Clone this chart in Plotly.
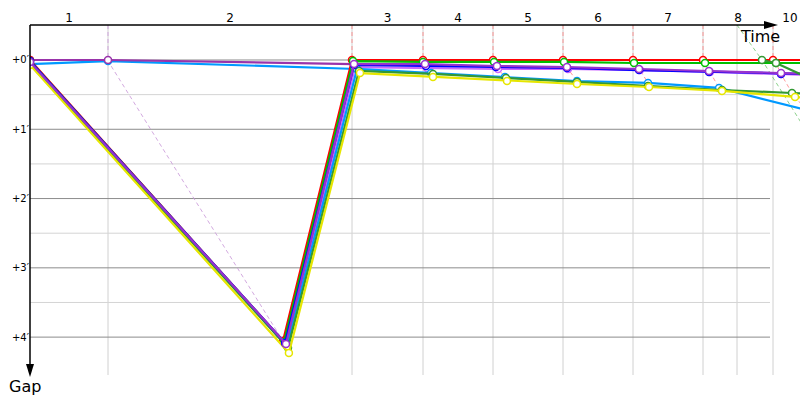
import plotly.graph_objects as go

# ==============================
#  Data: lap completion time (s) and gap to leader (s), index 0 = start
# ==============================
red_t = [0, 325.3, 414.0, 505.3, 595.3, 685.3, 775.3, 865.3, 955.3, 1045.3]
red_gap = [0, 243.3, 0, 0, 0, 0, 0, 0, 0, 0]

green_t = [0, 326.6, 415.3, 505.3, 596.6, 686.6, 776.6, 867.9, 959.1, 1049.1]
green_gap = [0.9, 244.2, 0.9, 1.7, 1.7, 1.7, 2.6, 2.6, 2.6, 2.6]

blue_t = [0, 327.9, 416.6, 509.1, 599.1, 690.4, 783.0, 873.0, 965.6, 1055.6]
blue_gap = [0.9, 245.0, 4.3, 5.2, 6.1, 6.9, 8.7, 10.4, 12.1, 13.0]

violet_t = [0, 329.1, 416.6, 507.9, 600.4, 690.4, 783.0, 873.0, 965.6, 1055.6]
violet_gap = [1.7, 245.9, 3.5, 3.5, 5.2, 6.1, 7.8, 9.5, 11.3, 13.0]

lilac_t = [0, 330.4, 417.9, 510.4, 601.7, 691.7, 784.3, 874.3, 965.6, 1055.6]
lilac_gap = [1.7, 246.8, 6.1, 6.9, 7.8, 7.8, 8.7, 10.4, 12.1, 13.9]

sky_t = [0, 330.4, 420.4, 515.6, 610.7, 703.3, 794.6, 885.9, 997.7, 1087.7]
sky_gap = [2.6, 247.6, 7.8, 11.3, 14.7, 18.2, 19.9, 24.2, 43.3, 61.5]

dkgreen_t = [0, 331.7, 423.0, 518.1, 612.0, 703.3, 794.6, 889.7, 979.7, 1069.7]
dkgreen_gap = [3.5, 249.3, 9.5, 12.1, 15.6, 19.1, 22.5, 26.0, 28.6, 31.2]

yellow_t = [0, 332.9, 424.3, 518.1, 613.3, 703.3, 795.9, 889.7, 983.6, 1073.6]
yellow_gap = [4.3, 253.7, 11.3, 14.7, 18.2, 20.8, 23.4, 26.8, 32.0, 37.2]

# cars that completed lap 1 quickly (only start .. lap 2)
purple2_t = [0, 100.3, 416.6]
purple2_gap = [0, 0, 3.5]
sky2_t = [0, 100.3, 420.4]
sky2_gap = [3.5, 0.9, 7.8]

# lapped dark green car and its lap line
lapped_t = [941.1, 959.1, 1049.1]
lapped_gap = [0, 2.6, 30.3]
green_lap_t = [909.0, 941.1, 1005.4]
green_lap_gap = [-30.3, 0, 69.3]

lap_labels = ["1", "2", "3", "4", "5", "6", "7", "8", "10"]
lap_label_t = [50.1, 257.1, 459.6, 550.3, 640.3, 730.3, 820.3, 910.3, 977.1]

gap_ticks = [0, 60, 120, 180, 240]
gap_text = ["+0′", "+1′", "+2′", "+3′", "+4′"]
gap_minor = [30, 90, 150, 210]

# ==============================
#  Geometry
# ==============================
W, H = 800, 400
ML, MT, MR, MB = 30, 25, 0, 25
X_RANGE = [0, 990.0]
Y_RANGE = [272.8, -30.3]  # reversed: gap grows downward
PW, PH = W - ML - MR, H - MT - MB


def px(x, y):
    """pixel -> paper coords"""
    return (x - ML) / PW, (H - MB - y) / PH


main = [
    ("#ff0000", red_t, red_gap),
    ("#00c000", green_t, green_gap),
    ("#0000ff", blue_t, blue_gap),
    ("#9933cc", violet_t, violet_gap),
    ("#cc66ff", lilac_t, lilac_gap),
    ("#0099ff", sky_t, sky_gap),
    ("#339933", dkgreen_t, dkgreen_gap),
    ("#e6e600", yellow_t, yellow_gap),
]
extra = [
    ("#0099ff", sky2_t, sky2_gap),
    ("#9933aa", purple2_t, purple2_gap),
    ("#339933", lapped_t, lapped_gap),
]

fig = go.Figure()

# ==============================
#  Lap lines (dashed, below series)
# ==============================
lap_tops = []
for lap in range(1, 9):
    pts = [(t[lap], g[lap]) for _, t, g in main]
    if lap == 1:
        pts += [(purple2_t[1], purple2_gap[1]), (sky2_t[1], sky2_gap[1])]
        col = "rgba(205,160,220,0.9)"
    else:
        col = "rgba(255,120,120,0.75)"
    pts.sort(key=lambda p: (p[1], p[0]))
    top = min(p[0] for p in pts)
    lap_tops.append(top)
    xs = [top] + [p[0] for p in pts]
    ys = [Y_RANGE[1]] + [p[1] for p in pts]
    fig.add_trace(go.Scatter(x=xs, y=ys, mode="lines", hoverinfo="skip",
                             line=dict(color=col, width=1, dash="4px,3px")))

lap_tops.append(green_lap_t[0])
fig.add_trace(go.Scatter(x=green_lap_t, y=green_lap_gap, mode="lines", hoverinfo="skip",
                         line=dict(color="rgba(120,200,120,0.85)", width=1, dash="4px,3px")))

# ==============================
#  Driver series (blue / violet drawn last, they sit on top in the original)
# ==============================
draw_order = [0, 1, 4, 5, 6, 7, 2, 3]
for col, t, g in extra[:2] + [main[i] for i in draw_order] + extra[2:]:
    fig.add_trace(go.Scatter(
        x=t, y=g, mode="lines+markers",
        line=dict(color=col, width=2.2),
        marker=dict(size=7, color="white", line=dict(color=col, width=1.5)),
    ))

# ==============================
#  Grid + axes as shapes
# ==============================
shapes = []
x_grid_end = (770 - ML) / PW * X_RANGE[1]
for g in gap_minor:
    shapes.append(dict(type="line", xref="x", yref="y", x0=0, x1=x_grid_end, y0=g, y1=g,
                       line=dict(color="#d4d4d4", width=1), layer="below"))
for g in gap_ticks:
    shapes.append(dict(type="line", xref="x", yref="y", x0=0, x1=x_grid_end, y0=g, y1=g,
                       line=dict(color="#8c8c8c", width=1), layer="below"))
for t in lap_tops:
    shapes.append(dict(type="line", xref="x", yref="paper", x0=t, x1=t, y0=0, y1=1,
                       line=dict(color="#d0d0d0", width=1), layer="below"))

# top (time) axis with arrow
x0, y0 = px(30, 25)
x1, _ = px(768, 25)
shapes.append(dict(type="line", xref="paper", yref="paper", x0=x0, y0=y0, x1=x1, y1=y0,
                   line=dict(color="black", width=1.5)))
a, b = px(778, 25)
c, d = px(764, 21)
e, f = px(764, 29)
shapes.append(dict(type="path", xref="paper", yref="paper",
                   path=f"M {a} {b} L {c} {d} L {e} {f} Z",
                   fillcolor="black", line=dict(color="black", width=0)))

# left (gap) axis with arrow
x0, y0 = px(30, 25)
_, y1 = px(30, 366)
shapes.append(dict(type="line", xref="paper", yref="paper", x0=x0, y0=y0, x1=x0, y1=y1,
                   line=dict(color="black", width=1.5)))
a, b = px(30, 377)
c, d = px(26, 364)
e, f = px(34, 364)
shapes.append(dict(type="path", xref="paper", yref="paper",
                   path=f"M {a} {b} L {c} {d} L {e} {f} Z",
                   fillcolor="black", line=dict(color="black", width=0)))

tx, ty = px(760, 36)
gx, gy = px(25, 386)
annotations = [
    dict(x=tx, y=ty, xref="paper", yref="paper", text="Time", showarrow=False,
         font=dict(size=16, color="black"), xanchor="center", yanchor="middle"),
    dict(x=gx, y=gy, xref="paper", yref="paper", text="Gap", showarrow=False,
         font=dict(size=16, color="black"), xanchor="center", yanchor="middle"),
]

fig.update_layout(
    width=W, height=H,
    margin=dict(l=ML, r=MR, t=MT, b=MB),
    plot_bgcolor="white", paper_bgcolor="white",
    showlegend=False,
    font=dict(family="DejaVu Sans", color="black"),
    shapes=shapes,
    annotations=annotations,
    xaxis=dict(range=X_RANGE, side="top", showgrid=False, zeroline=False, showline=False,
               tickmode="array", tickvals=lap_label_t, ticktext=lap_labels,
               ticks="", tickfont=dict(size=12)),
    yaxis=dict(range=Y_RANGE, showgrid=False, zeroline=False, showline=False,
               tickmode="array", tickvals=gap_ticks, ticktext=gap_text,
               ticks="", tickfont=dict(size=10)),
)

# page body has a default 8px margin; drop it so the figure sits at 0,0
fig.write_html("out.html", config={"displayModeBar": False},
               post_script="document.body.style.margin='0';")
